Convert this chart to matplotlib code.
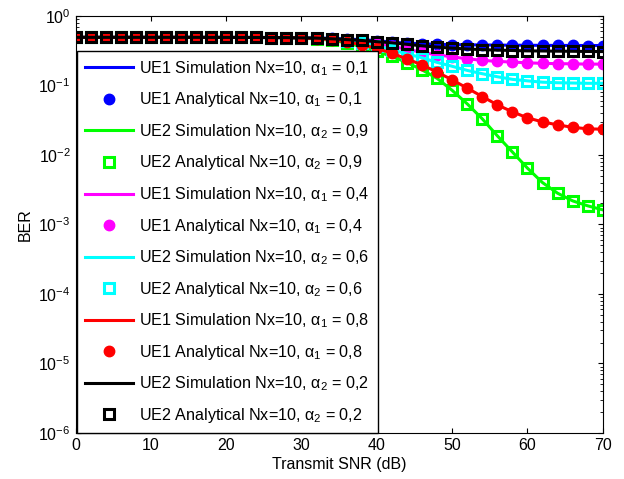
import matplotlib
matplotlib.use("Agg")
import matplotlib.pyplot as plt

plt.rcParams["font.family"] = ["Liberation Sans", "DejaVu Sans"]
plt.rcParams["mathtext.fontset"] = "custom"
plt.rcParams["mathtext.rm"] = "Liberation Sans"
plt.rcParams["mathtext.it"] = "Liberation Sans:italic"

# Transmit SNR grid (dB)
snr = [0, 2, 4, 6, 8, 10, 12, 14, 16, 18, 20, 22, 24, 26, 28,
       30, 32, 34, 36, 38, 40, 42, 44, 46, 48, 50, 52, 54, 56, 58,
       60, 62, 64, 66, 68, 70]

# low-SNR part shared by every curve (0..28 dB)
ber_low = [0.49, 0.49, 0.49, 0.49, 0.49, 0.49, 0.49, 0.49, 0.49,
           0.489, 0.489, 0.488, 0.488, 0.487, 0.486]

# 30..70 dB
ue1_a01 = ber_low + [0.484, 0.48, 0.474, 0.465, 0.452, 0.44, 0.418, 0.405, 0.396,
                     0.389, 0.385, 0.383, 0.381, 0.379, 0.378, 0.377, 0.376,
                     0.375, 0.375, 0.374, 0.374]
ue2_a09 = ber_low + [0.475, 0.467, 0.444, 0.409, 0.358, 0.308, 0.260, 0.213, 0.167,
                     0.126, 0.0848, 0.0542, 0.0330, 0.0188, 0.0110, 0.00644,
                     0.00399, 0.00281, 0.00218, 0.00185, 0.00162]
ue1_a04 = ber_low + [0.482, 0.475, 0.462, 0.444, 0.422, 0.396, 0.364, 0.330, 0.298,
                     0.275, 0.257, 0.241, 0.229, 0.221, 0.216, 0.211, 0.207,
                     0.205, 0.204, 0.202, 0.202]
ue2_a06 = ber_low + [0.482, 0.475, 0.46, 0.437, 0.409, 0.370, 0.324, 0.284, 0.249,
                     0.214, 0.188, 0.164, 0.147, 0.133, 0.122, 0.116, 0.111,
                     0.109, 0.108, 0.107, 0.107]
ue1_a08 = ber_low + [0.48, 0.47, 0.455, 0.422, 0.383, 0.341, 0.289, 0.240, 0.197,
                     0.155, 0.120, 0.0912, 0.0690, 0.0524, 0.0416, 0.0341,
                     0.0298, 0.0270, 0.0249, 0.0237, 0.0234]
ue2_a02 = ber_low + [0.482, 0.478, 0.467, 0.455, 0.442, 0.425, 0.409, 0.389, 0.370,
                     0.355, 0.343, 0.333, 0.326, 0.321, 0.317, 0.313, 0.312,
                     0.310, 0.309, 0.307, 0.306]

series = [
    (ue1_a01, "b", "o", "UE1", "1", "0,1"),
    (ue2_a09, "#00ff00", "s", "UE2", "2", "0,9"),
    (ue1_a04, "#ff00ff", "o", "UE1", "1", "0,4"),
    (ue2_a06, "#00ffff", "s", "UE2", "2", "0,6"),
    (ue1_a08, "r", "o", "UE1", "1", "0,8"),
    (ue2_a02, "k", "s", "UE2", "2", "0,2"),
]

fig = plt.figure(figsize=(6.24, 4.79), dpi=100)
ax = fig.add_axes([0.121, 0.096, 0.845, 0.871])

for ber, col, mk, ue, sub, a in series:
    ax.semilogy(snr, ber, color=col, lw=2.2,
                label=f"{ue} Simulation Nx=10, α$_{sub}$ = {a}")
    if mk == "o":
        ax.semilogy(snr, ber, ls="none", marker="o", ms=7.5, color=col,
                    label=f"{ue} Analytical Nx=10, α$_{sub}$ = {a}")
    else:
        ax.semilogy(snr, ber, ls="none", marker="s", ms=7, mfc="none",
                    mec=col, mew=2.2,
                    label=f"{ue} Analytical Nx=10, α$_{sub}$ = {a}")

ax.set_xlim(0, 70)
ax.set_ylim(1e-6, 1)
ax.set_xticks([0, 10, 20, 30, 40, 50, 60, 70])
ax.tick_params(which="both", direction="in", top=True, right=True, labelsize=11.5)
ax.set_xlabel("Transmit SNR (dB)", fontsize=11.5, labelpad=3)
ax.set_ylabel("BER", fontsize=11.5)

leg = ax.legend(loc="upper left", bbox_to_anchor=(0.0034, 0.916), borderaxespad=0,
                fontsize=11.6, handlelength=2.95, handletextpad=0.4, labelspacing=0.79,
                borderpad=0.5, numpoints=1, fancybox=False, framealpha=1,
                edgecolor="k")
leg.get_frame().set_linewidth(1.0)

fig.savefig("out.png", dpi=100)
